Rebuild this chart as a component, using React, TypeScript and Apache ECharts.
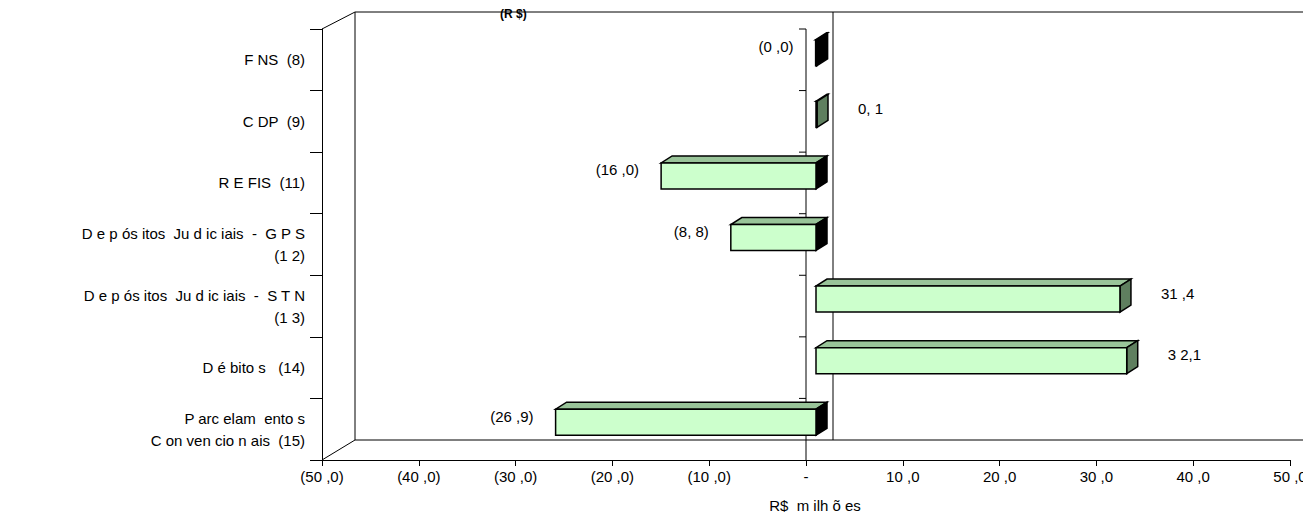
import { useEffect, useRef } from "react";
import * as echarts from "echarts";

const categories = [
  "F NS  (8)",
  "C DP  (9)",
  "R E FIS  (11)",
  "D e p ós itos  Ju d ic iais  -  G P S\n(1 2)",
  "D e p ós itos  Ju d ic iais  -  S T N\n(1 3)",
  "D é bito s   (14)",
  "P arc elam  ento s\nC on ven cio n ais  (15)",
];
const values = [-0.04, 0.1, -16.0, -8.8, 31.4, 32.1, -26.9];
const valueLabels = ["(0 ,0)", "0, 1", "(16 ,0)", "(8, 8)", "31 ,4", "3 2,1", "(26 ,9)"];

const fmtTick = (v: number) => {
  if (v === 0) return "-";
  const s = Math.abs(v).toFixed(1).replace(".", " ,");
  return v < 0 ? "(" + s + ")" : s;
};

// page has an 8px body margin; frame coordinates below are chart-local
const L = 314;
const T = 21;
const B = 452;
const Z = 798;
const DX = 33;
const DY = 17;

const App = () => {
  const ref = useRef<HTMLDivElement>(null);

  useEffect(() => {
    if (!ref.current) return;
    const chart = echarts.init(ref.current, null, { renderer: "svg" });
    const d = 11;
    const d2 = 7;
    const offX = 10;
    const offY = -7;
    const h = 26;
    const ln = (x1: number, y1: number, x2: number, y2: number) => ({
      type: "line",
      shape: { x1, y1, x2, y2 },
      style: { stroke: "#000", lineWidth: 1 },
    });
    chart.setOption({
      animation: false,
      textStyle: { fontFamily: "Liberation Sans", color: "#000" },
      grid: { left: L, right: 21, top: T, bottom: 522 - B },
      xAxis: {
        type: "value",
        min: -50,
        max: 50,
        interval: 10,
        splitLine: { show: false },
        axisLine: { show: true, lineStyle: { color: "#000" } },
        axisTick: { show: true, length: 6, lineStyle: { color: "#000" } },
        axisLabel: { formatter: fmtTick, color: "#000", fontSize: 15, margin: 9 },
        name: "R$  m ilh õ es",
        nameLocation: "middle",
        nameGap: 38,
        nameTextStyle: { color: "#000", fontSize: 15, padding: [0, 0, 0, 18] },
      },
      yAxis: {
        type: "category",
        data: categories,
        inverse: true,
        axisLine: { show: true, onZero: false, lineStyle: { color: "#000" } },
        axisTick: { show: true, length: 12, lineStyle: { color: "#000" } },
        axisLabel: { color: "#000", fontSize: 15, margin: 17, lineHeight: 22 },
      },
      graphic: [
        ln(L + DX, T - DY, 1303, T - DY),
        ln(L + DX, T - DY, L + DX, B - 20),
        ln(L + DX, B - 20, 1303, B - 20),
        ln(L, T, L + DX, T - DY),
        ln(L, B, L + DX, B - 20),
        ln(Z + 27, T - DY, Z + 27, B - 20),
        ln(Z, T, Z, B),
        ...[0, 1, 2, 3, 4, 5, 6].map((i) => ln(Z - 7, T + i * 61.57, Z, T + i * 61.57)),
        {
          type: "text",
          left: 492,
          top: 0,
          style: { text: "(R $)", font: "bold 12px Liberation Sans", fill: "#000" },
        },
      ],
      series: [
        {
          type: "custom",
          data: values.map((v, i) => [v, i]),
          encode: { x: 0, y: 1 },
          renderItem: (params: any, api: any) => {
            const v = api.value(0);
            const idx = api.value(1);
            const p0 = api.coord([0, idx]);
            const p1 = api.coord([v, idx]);
            const xa = p0[0] + offX;
            const xb = p1[0] + offX;
            const xl = Math.min(xa, xb);
            const xr = Math.max(xa, xb, xl + 1);
            const yc = p0[1] + offY;
            const yt = yc - h / 2;
            const yb = yc + h / 2;
            const neg = v < 0;
            const stroke = { stroke: "#000", lineWidth: 1.5 };
            const lbl = valueLabels[params.dataIndex];
            return {
              type: "group",
              children: [
                {
                  type: "polygon",
                  shape: { points: [[xl, yt], [xr, yt], [xr + d, yt - d2], [xl + d, yt - d2]] },
                  style: { fill: "#99C499", ...stroke },
                },
                {
                  type: "polygon",
                  shape: { points: [[xr, yt], [xr + d, yt - d2], [xr + d, yb - d2], [xr, yb]] },
                  style: { fill: neg ? "#000" : "#5F7F5F", ...stroke },
                },
                {
                  type: "rect",
                  shape: { x: xl, y: yt, width: xr - xl, height: h },
                  style: { fill: "#CCFFCC", ...stroke },
                },
                {
                  type: "text",
                  x: neg ? xl - 22 : xr + d + 30,
                  y: yc - 6,
                  style: {
                    text: lbl,
                    fill: "#000",
                    font: "15px Liberation Sans",
                    align: neg ? "right" : "left",
                    verticalAlign: "middle",
                  },
                },
              ],
            };
          },
        },
      ],
    });
    return () => chart.dispose();
  }, []);

  return <div ref={ref} style={{ width: 1303, height: 522 }} />;
};

export default App;
